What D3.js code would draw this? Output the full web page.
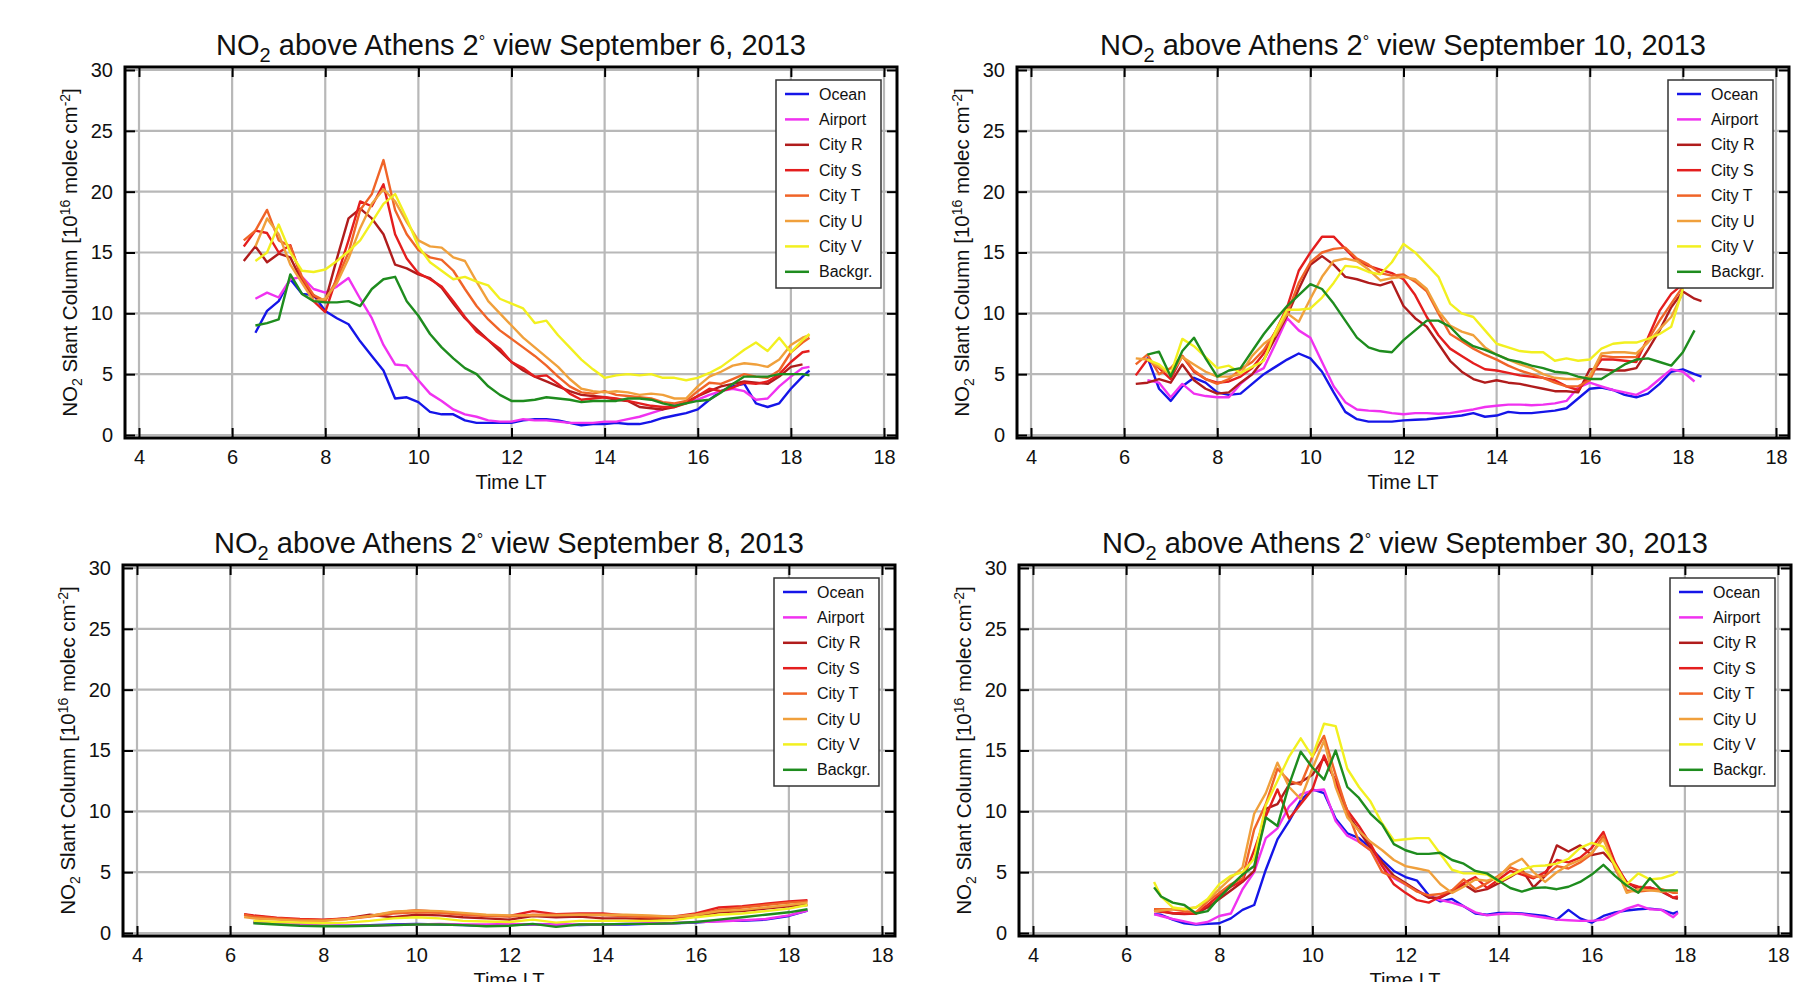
<!DOCTYPE html>
<html lang="en">
  <head>
    <meta charset="UTF-8" />
    <script src="https://d3js.org/d3.v7.min.js"></script>
    <title>NO2 above Athens</title>
    <style>
      body { margin: 0; background: #fff; }
      text { font-family: "Liberation Sans", Arial, Helvetica, sans-serif; fill: #111; }
    </style>
  </head>
  <body>
    <div id="chart"></div>
    <script>
      // series names / colours (legend order)
      const seriesNames = ["Ocean", "Airport", "City R", "City S", "City T", "City U", "City V", "Backgr."];
      const seriesColors = ["#1515e8", "#f032f0", "#b01c1c", "#e41e1e", "#f06428", "#f0a03c", "#f2f020", "#1e8c1e"];

      // axis ticks (the last x label really reads "18" in the original)
      const xTicks = [4, 6, 8, 10, 12, 14, 16, 18, 20];
      const xTickLabels = ["4", "6", "8", "10", "12", "14", "16", "18", "18"];
      const yTicks = [0, 5, 10, 15, 20, 25, 30];

      // ---- September 6 ----
      const timeSep6 = [6.25, 6.5, 6.75, 7, 7.25, 7.5, 7.75, 8, 8.25, 8.5, 8.75, 9, 9.25, 9.5, 9.75, 10, 10.25, 10.5, 10.75, 11, 11.25, 11.5, 11.75, 12, 12.25, 12.5, 12.75, 13, 13.25, 13.5, 13.75, 14, 14.25, 14.5, 14.75, 15, 15.25, 15.5, 15.75, 16, 16.25, 16.5, 16.75, 17, 17.25, 17.5, 17.75, 18, 18.25, 18.4];
      const sep6Ocean = [null, 8.4, 10.2, 11.0, 12.8, 11.6, 11.5, 10.2, 9.6, 9.1, 7.7, 6.5, 5.3, 3.0, 3.1, 2.7, 1.9, 1.7, 1.7, 1.2, 1.0, 1.0, 1.0, 1.0, 1.2, 1.3, 1.3, 1.2, 1.0, 0.8, 0.9, 0.9, 1.0, 0.9, 0.9, 1.1, 1.4, 1.6, 1.8, 2.1, 2.9, 3.6, 4.0, 4.2, 2.6, 2.3, 2.6, 3.8, 4.8, 5.3];
      const sep6Airport = [null, 11.2, 11.7, 11.3, 12.8, 13.0, 12.0, 11.7, 12.2, 12.9, 11.2, 9.6, 7.4, 5.8, 5.7, 4.5, 3.4, 2.8, 2.1, 1.7, 1.5, 1.2, 1.1, 1.1, 1.3, 1.2, 1.2, 1.1, 1.0, 1.0, 1.0, 1.1, 1.1, 1.3, 1.5, 1.8, 2.1, 2.5, 2.7, 2.9, 3.3, 3.6, 3.8, 3.6, 2.9, 3.0, 4.0, 4.8, 5.5, 5.6];
      const sep6CityR = [14.3, 15.5, 14.2, 14.9, 14.6, 12.6, 11.4, 11.0, 14.5, 17.8, 18.6, 17.8, 16.5, 14.0, 13.7, 13.2, 12.9, 12.1, 10.8, 9.6, 8.7, 7.8, 6.9, 6.0, 5.3, 4.8, 4.4, 4.0, 3.6, 3.3, 3.2, 3.1, 2.9, 2.8, 2.3, 2.2, 2.1, 2.3, 2.7, 3.2, 3.6, 4.0, 4.2, 4.4, 4.3, 4.2, 4.8, 5.6, 5.8, null];
      const sep6CityS = [15.5, 16.8, 16.6, 15.0, 15.6, 12.8, 11.0, 10.1, 13.0, 16.0, 19.2, 18.8, 20.6, 16.5, 14.5, 13.3, 12.8, 12.2, 11.0, 9.7, 8.5, 7.8, 7.1, 6.0, 5.5, 4.8, 4.9, 4.2, 3.4, 2.9, 3.0, 3.1, 3.0, 2.8, 2.6, 2.4, 2.3, 2.3, 2.6, 3.2, 3.8, 3.6, 3.9, 4.3, 4.2, 4.4, 5.0, 6.0, 6.8, 6.9];
      const sep6CityT = [16.0, 16.8, 18.5, 16.0, 15.5, 13.0, 11.5, 11.0, 12.8, 15.0, 18.5, 19.8, 22.6, 18.5, 16.5, 15.2, 14.6, 14.4, 13.5, 12.0, 10.6, 9.5, 8.6, 7.9, 7.2, 6.5, 5.7, 4.8, 4.0, 3.5, 3.4, 3.6, 3.3, 3.2, 3.1, 3.0, 2.7, 2.6, 2.8, 3.6, 4.3, 4.2, 4.6, 5.0, 4.8, 4.7, 5.3, 6.8, 7.6, 8.0];
      const sep6CityU = [null, 15.5, 17.8, 16.5, 14.0, 12.5, 11.0, 11.2, 12.5, 14.5, 17.0, 19.0, 20.2, 19.2, 17.5, 16.0, 15.5, 15.4, 14.6, 14.3, 12.6, 11.0, 10.0, 9.0, 8.0, 7.2, 6.4, 5.6, 4.6, 3.8, 3.6, 3.5, 3.6, 3.5, 3.3, 3.4, 3.3, 3.0, 3.0, 4.0, 4.8, 5.2, 5.7, 5.9, 5.8, 5.6, 6.2, 7.4, 8.0, 8.2];
      const sep6CityV = [null, 14.3, 15.0, 17.3, 15.0, 13.5, 13.4, 13.6, 14.3, 15.1, 16.0, 17.5, 19.0, 19.8, 17.8, 15.5, 14.2, 13.5, 12.8, 13.0, 12.6, 12.3, 11.2, 10.8, 10.4, 9.2, 9.4, 8.2, 7.2, 6.2, 5.4, 4.7, 4.9, 5.0, 4.9, 5.0, 4.7, 4.7, 4.5, 4.7, 5.1, 5.6, 6.3, 7.0, 7.6, 6.9, 8.0, 6.8, 7.8, 8.3];
      const sep6Backgr = [null, 9.0, 9.2, 9.5, 13.2, 11.6, 11.0, 10.9, 10.9, 11.0, 10.6, 12.0, 12.8, 13.0, 11.0, 9.8, 8.3, 7.2, 6.3, 5.5, 5.0, 4.0, 3.3, 2.8, 2.8, 2.9, 3.1, 3.0, 2.9, 2.7, 2.8, 2.8, 2.8, 3.0, 3.0, 2.9, 2.6, 2.4, 2.6, 2.8, 2.9, 3.5, 4.2, 4.8, 4.8, 4.8, 5.0, 5.0, 5.0, 4.9];

      // ---- September 10 ----
      const timeSep10 = [6.25, 6.5, 6.75, 7, 7.25, 7.5, 7.75, 8, 8.25, 8.5, 8.75, 9, 9.25, 9.5, 9.75, 10, 10.25, 10.5, 10.75, 11, 11.25, 11.5, 11.75, 12, 12.25, 12.5, 12.75, 13, 13.25, 13.5, 13.75, 14, 14.25, 14.5, 14.75, 15, 15.25, 15.5, 15.75, 16, 16.25, 16.5, 16.75, 17, 17.25, 17.5, 17.75, 18, 18.25, 18.4];
      const sep10Ocean = [null, 6.4, 3.8, 2.8, 4.0, 4.7, 4.3, 3.5, 3.3, 3.4, 4.2, 5.0, 5.6, 6.2, 6.7, 6.3, 5.2, 3.5, 1.9, 1.3, 1.1, 1.1, 1.1, 1.2, 1.25, 1.3, 1.4, 1.5, 1.6, 1.8, 1.5, 1.6, 1.9, 1.8, 1.8, 1.9, 2.0, 2.2, 3.0, 3.8, 3.9, 3.7, 3.3, 3.1, 3.4, 4.2, 5.2, 5.4, 5.0, 4.8];
      const sep10Airport = [null, 4.5, 4.3, 3.1, 4.2, 3.4, 3.2, 3.1, 3.1, 4.2, 5.0, 5.5, 7.5, 9.6, 8.6, 8.0, 6.0, 4.0, 2.7, 2.1, 2.0, 1.95, 1.8, 1.7, 1.8, 1.8, 1.75, 1.8, 1.95, 2.1, 2.3, 2.4, 2.5, 2.5, 2.45, 2.5, 2.6, 2.8, 3.9, 4.3, 4.0, 3.7, 3.5, 3.3, 3.8, 4.6, 5.4, 5.2, 4.4, null];
      const sep10CityR = [4.2, 4.3, 4.6, 4.3, 5.8, 4.5, 3.8, 3.4, 3.5, 4.3, 5.0, 6.2, 8.0, 9.8, 12.0, 14.0, 14.7, 14.0, 13.0, 12.8, 12.5, 12.3, 12.6, 10.6, 9.6, 8.9, 7.5, 6.1, 5.2, 4.6, 4.3, 4.5, 4.3, 4.2, 4.0, 3.8, 3.6, 3.6, 3.5, 5.4, 5.4, 5.3, 5.3, 5.5, 7.0, 8.6, 10.5, 11.8, 11.2, 11.0];
      const sep10CityS = [4.9, 6.2, 5.5, 4.6, 6.5, 5.2, 4.6, 4.3, 4.4, 4.8, 5.5, 6.7, 8.5, 10.5, 13.5, 15.0, 16.3, 16.3, 15.3, 14.3, 13.9, 13.6, 13.3, 12.8, 11.5, 9.7, 8.2, 7.1, 6.5, 5.9, 5.4, 5.3, 5.1, 4.9, 4.8, 4.7, 4.5, 4.0, 3.7, 4.8, 6.2, 6.2, 6.1, 6.0, 8.0, 10.2, 11.6, 12.4, null, null];
      const sep10CityT = [5.8, 6.6, 5.0, 5.5, 6.5, 5.3, 4.6, 4.2, 4.6, 5.4, 6.0, 7.0, 8.5, 10.0, 12.5, 14.2, 15.0, 15.3, 15.4, 14.5, 14.0, 13.3, 13.1, 13.2, 12.6, 11.8, 10.0, 8.3, 7.7, 7.1, 6.6, 6.2, 5.7, 5.3, 5.0, 4.7, 4.3, 4.0, 4.0, 4.5, 6.5, 6.4, 6.4, 6.4, 7.8, 9.4, 10.8, 12.2, null, null];
      const sep10CityU = [6.3, 6.2, 5.6, 5.0, 6.4, 5.8, 5.2, 4.8, 4.8, 5.0, 6.5, 7.5, 8.2, 10.0, 9.3, 11.2, 13.0, 14.3, 14.5, 14.3, 13.6, 12.7, 12.9, 13.0, 12.8, 12.0, 10.2, 9.0, 8.5, 8.2, 7.2, 6.6, 6.2, 5.8, 5.5, 5.0, 4.7, 4.6, 4.6, 4.8, 6.7, 6.8, 6.8, 6.7, 7.6, 8.7, 9.7, 11.7, null, null];
      const sep10CityV = [null, 6.2, 5.8, 5.0, 7.9, 7.3, 6.4, 5.5, 5.7, 5.1, 5.6, 6.1, 8.5, 10.3, 10.3, 10.4, 11.3, 12.5, 13.9, 13.8, 13.4, 13.2, 14.2, 15.7, 15.0, 14.0, 13.0, 10.8, 10.0, 9.7, 8.6, 7.5, 7.2, 6.9, 6.8, 6.8, 6.1, 6.3, 6.1, 6.2, 7.1, 7.5, 7.6, 7.6, 7.9, 8.3, 8.9, 12.0, null, null];
      const sep10Backgr = [null, 6.6, 6.85, 4.8, 6.9, 8.0, 6.3, 4.8, 5.3, 5.5, 6.9, 8.3, 9.5, 10.6, 11.5, 12.4, 12.0, 10.8, 9.4, 8.0, 7.2, 6.9, 6.8, 7.8, 8.6, 9.4, 9.4, 8.9, 7.9, 7.3, 7.0, 6.6, 6.2, 6.0, 5.7, 5.5, 5.2, 5.1, 4.8, 4.6, 4.6, 5.2, 5.8, 6.2, 6.3, 6.0, 5.7, 6.8, 8.6, null];

      // ---- September 8 ----
      const timeSep8 = [6.3, 6.5, 7, 7.5, 8, 8.5, 9, 9.5, 10, 10.5, 11, 11.5, 12, 12.5, 13, 13.5, 14, 14.5, 15, 15.5, 16, 16.5, 17, 17.5, 18, 18.4];
      const sep8Ocean = [null, 0.9, 0.8, 0.7, 0.6, 0.6, 0.65, 0.7, 0.75, 0.7, 0.65, 0.6, 0.7, 0.7, 0.7, 0.65, 0.7, 0.7, 0.75, 0.8, 0.85, 1.0, 1.0, 1.1, 1.4, 1.85];
      const sep8Airport = [null, 0.85, 0.75, 0.7, 0.6, 0.6, 0.6, 0.65, 0.7, 0.75, 0.7, 0.7, 0.75, 0.7, 0.7, 0.7, 0.7, 0.75, 0.8, 0.8, 0.9, 0.95, 1.05, 1.15, 1.45, 1.85];
      const sep8CityR = [1.5, 1.4, 1.2, 1.1, 1.05, 1.2, 1.5, 1.3, 1.5, 1.45, 1.3, 1.2, 1.1, 1.4, 1.3, 1.35, 1.2, 1.2, 1.15, 1.2, 1.4, 1.7, 1.8, 2.0, 2.2, 2.3];
      const sep8CityS = [1.55, 1.45, 1.25, 1.15, 1.1, 1.2, 1.4, 1.7, 1.85, 1.75, 1.55, 1.45, 1.4, 1.8, 1.55, 1.6, 1.6, 1.45, 1.35, 1.35, 1.6, 2.1, 2.2, 2.4, 2.6, 2.7];
      const sep8CityT = [1.5, 1.35, 1.2, 1.1, 1.05, 1.15, 1.35, 1.6, 1.7, 1.65, 1.5, 1.4, 1.35, 1.5, 1.5, 1.5, 1.45, 1.4, 1.3, 1.3, 1.5, 1.9, 2.1, 2.3, 2.5, 2.6];
      const sep8CityU = [1.3, 1.2, 1.1, 1.0, 1.0, 1.15, 1.4, 1.75, 1.85, 1.8, 1.65, 1.5, 1.45, 1.45, 1.45, 1.5, 1.5, 1.5, 1.45, 1.35, 1.5, 1.8, 1.9, 2.1, 2.3, 2.5];
      const sep8CityV = [null, 1.0, 0.9, 0.85, 0.8, 0.85, 1.0, 1.2, 1.3, 1.2, 1.0, 0.95, 0.9, 1.1, 0.85, 1.0, 1.0, 1.0, 1.0, 1.05, 1.3, 1.5, 1.6, 1.8, 2.0, 2.3];
      const sep8Backgr = [null, 0.8, 0.7, 0.6, 0.55, 0.55, 0.6, 0.65, 0.7, 0.7, 0.65, 0.55, 0.6, 0.75, 0.5, 0.7, 0.7, 0.75, 0.75, 0.8, 0.9, 1.1, 1.3, 1.5, 1.7, 1.95];

      // ---- September 30 ----
      const timeSep30 = [6.6, 6.75, 7, 7.25, 7.5, 7.75, 8, 8.25, 8.5, 8.75, 9, 9.25, 9.5, 9.75, 10, 10.25, 10.5, 10.75, 11, 11.25, 11.5, 11.75, 12, 12.25, 12.5, 12.75, 13, 13.25, 13.5, 13.75, 14, 14.25, 14.5, 14.75, 15, 15.25, 15.5, 15.75, 16, 16.25, 16.5, 16.75, 17, 17.25, 17.5, 17.75, 17.85];
      const sep30Ocean = [1.55, 1.5, 1.1, 0.8, 0.7, 0.75, 0.8, 1.2, 1.9, 2.3, 5.2, 7.7, 9.2, 10.9, 11.8, 11.5, 9.4, 8.2, 7.8, 7.0, 6.0, 5.1, 4.6, 4.3, 3.1, 2.6, 2.8, 2.2, 1.6, 1.5, 1.65, 1.65, 1.6, 1.5, 1.4, 1.1, 1.9, 1.2, 0.85, 1.4, 1.7, 1.85, 1.95, 2.0, 1.9, 1.6, 1.75];
      const sep30Airport = [1.55, 1.4, 1.15, 0.95, 0.75, 0.9, 1.4, 1.6, 3.6, 5.0, 7.8, 8.6, 10.4, 11.4, 11.7, 11.8, 9.2, 8.0, 7.5, 6.8, 5.5, 4.5, 4.0, 3.5, 3.0, 2.7, 2.5, 2.2, 1.7, 1.45, 1.55, 1.6, 1.55, 1.4, 1.25, 1.1, 1.05, 1.0, 1.0, 1.1, 1.55, 2.0, 2.3, 1.95, 1.9, 1.3, 1.65];
      const sep30CityR = [1.95, 1.8, 1.6, 1.55, 1.6, 2.1, 2.8, 3.5, 4.2, 5.1, 10.2, 10.6, 12.2, 12.4, 13.0, 14.4, 12.5, 9.8, 8.4, 7.0, 5.8, 4.7, 4.1, 3.5, 2.9, 2.9, 3.4, 4.0, 3.4, 3.6, 4.1, 4.6, 5.2, 3.75, 4.7, 7.2, 6.7, 7.2, 6.4, 6.6, 5.6, 4.2, 3.6, 3.75, 3.4, 2.9, 2.8];
      const sep30CityS = [1.8, 1.75, 1.65, 1.6, 1.6, 2.3, 3.1, 3.8, 4.3, 6.8, 9.6, 11.8, 9.4, 10.6, 11.8, 14.6, 12.4, 10.1, 8.8, 7.3, 5.5, 4.0, 3.3, 2.7, 2.5, 3.0, 3.5, 4.1, 4.6, 3.7, 4.4, 5.1, 4.8, 4.5, 5.0, 6.0, 5.8, 6.2, 7.0, 8.3, 5.8, 4.1, 3.8, 3.7, 3.5, 2.9, 3.0];
      const sep30CityT = [1.95, 1.95, 1.95, 1.8, 1.7, 2.6, 3.3, 4.0, 4.5, 8.5, 10.6, 13.5, 12.5, 12.2, 14.5, 16.2, 13.0, 10.0, 7.5, 6.8, 5.0, 4.6, 4.0, 3.4, 3.1, 3.2, 3.5, 4.4, 3.6, 4.1, 4.7, 5.4, 5.0, 4.6, 4.7, 5.5, 5.3, 5.8, 6.5, 8.0, 5.3, 3.5, 3.4, 3.5, 3.6, 3.3, 3.3];
      const sep30CityU = [1.8, 1.85, 1.95, 2.0, 2.1, 2.7, 3.6, 4.5, 5.4, 9.8, 11.5, 14.0, 12.0, 11.0, 13.5, 15.8, 12.0, 9.5, 8.4, 7.5, 6.8, 6.0, 5.5, 5.3, 5.1, 4.0, 3.3, 3.8, 4.4, 4.3, 4.6, 5.6, 6.1, 5.0, 4.2, 5.0, 5.6, 6.0, 6.6, 7.7, 5.5, 3.3, 3.6, 3.5, 3.4, 3.5, 3.4];
      const sep30CityV = [4.2, 3.0, 2.1, 1.95, 2.1, 2.8, 4.0, 4.7, 5.0, 6.1, 10.5, 12.5, 14.5, 16.0, 14.5, 17.2, 17.0, 13.5, 12.0, 10.8, 9.0, 7.6, 7.7, 7.8, 7.8, 6.5, 5.2, 4.9, 4.9, 4.8, 4.2, 4.7, 5.2, 5.5, 5.55, 5.7, 6.1, 7.0, 7.4, 7.1, 5.6, 4.0, 4.9, 4.4, 4.5, 4.8, 5.05];
      const sep30Backgr = [3.75, 3.0, 2.5, 2.3, 1.6, 1.8, 2.9, 3.9, 4.8, 5.5, 9.5, 8.8, 12.2, 14.9, 13.6, 12.6, 15.0, 12.0, 11.1, 9.8, 8.9, 7.3, 6.8, 6.5, 6.5, 6.6, 6.0, 5.7, 5.1, 4.9, 4.3, 3.7, 3.4, 3.7, 3.75, 3.6, 3.8, 4.2, 4.8, 5.6, 4.7, 3.9, 3.3, 4.5, 3.5, 3.5, 3.5];

      const panels = [
        { date: "September 6, 2013", time: timeSep6, values: [sep6Ocean, sep6Airport, sep6CityR, sep6CityS, sep6CityT, sep6CityU, sep6CityV, sep6Backgr], x0: 125, y0: 67 },
        { date: "September 10, 2013", time: timeSep10, values: [sep10Ocean, sep10Airport, sep10CityR, sep10CityS, sep10CityT, sep10CityU, sep10CityV, sep10Backgr], x0: 1017, y0: 67 },
        { date: "September 8, 2013", time: timeSep8, values: [sep8Ocean, sep8Airport, sep8CityR, sep8CityS, sep8CityT, sep8CityU, sep8CityV, sep8Backgr], x0: 123, y0: 565 },
        { date: "September 30, 2013", time: timeSep30, values: [sep30Ocean, sep30Airport, sep30CityR, sep30CityS, sep30CityT, sep30CityU, sep30CityV, sep30Backgr], x0: 1019, y0: 565 }
      ];

      const width = 1806, height = 982;
      const W = 772, H = 371;

      const svg = d3
        .select("#chart")
        .append("svg")
        .attr("width", width)
        .attr("height", height);

      panels.forEach(drawPanel);

      function drawPanel(p) {
        const g = svg.append("g");
        const x = d3.scaleLinear().domain([4, 20]).range([p.x0 + 14, p.x0 + W - 13]);
        const y = d3.scaleLinear().domain([0, 30]).range([p.y0 + H - 3, p.y0 + 3]);

        // grid
        g.selectAll(".vgrid")
          .data(xTicks)
          .join("line")
          .attr("x1", (d) => x(d))
          .attr("x2", (d) => x(d))
          .attr("y1", p.y0)
          .attr("y2", p.y0 + H)
          .attr("stroke", "#b8b8b8")
          .attr("stroke-width", 2.2);
        g.selectAll(".hgrid")
          .data(yTicks)
          .join("line")
          .attr("x1", p.x0)
          .attr("x2", p.x0 + W)
          .attr("y1", (d) => y(d))
          .attr("y2", (d) => y(d))
          .attr("stroke", "#b8b8b8")
          .attr("stroke-width", 2.2);

        // axes (ticks point inward)
        const bottom = g.append("g")
          .attr("transform", `translate(0, ${p.y0 + H})`)
          .call(d3.axisBottom(x).tickValues(xTicks).tickFormat((d, i) => xTickLabels[i]).tickSizeInner(-10).tickSizeOuter(0).tickPadding(12));
        const top = g.append("g")
          .attr("transform", `translate(0, ${p.y0})`)
          .call(d3.axisTop(x).tickValues(xTicks).tickFormat("").tickSizeInner(-10).tickSizeOuter(0));
        const left = g.append("g")
          .attr("transform", `translate(${p.x0}, 0)`)
          .call(d3.axisLeft(y).tickValues(yTicks).tickSizeInner(-10).tickSizeOuter(0).tickPadding(12));
        const right = g.append("g")
          .attr("transform", `translate(${p.x0 + W}, 0)`)
          .call(d3.axisRight(y).tickValues(yTicks).tickFormat("").tickSizeInner(-10).tickSizeOuter(0));
        [bottom, top, left, right].forEach((a) => {
          a.select(".domain").remove();
          a.selectAll(".tick line").attr("stroke", "#000").attr("stroke-width", 2);
          a.selectAll(".tick text")
            .style("font-family", '"Liberation Sans", Arial, sans-serif')
            .style("font-size", "20px")
            .attr("fill", "#111");
        });

        // series
        const line = d3
          .line()
          .defined((d) => d[1] !== null)
          .x((d) => x(d[0]))
          .y((d) => y(d[1]));
        p.values.forEach((vals, k) => {
          g.append("path")
            .datum(p.time.map((t, i) => [t, vals[i]]))
            .attr("fill", "none")
            .attr("stroke", seriesColors[k])
            .attr("stroke-width", 2.4)
            .attr("stroke-linejoin", "round")
            .attr("d", line);
        });

        // frame
        g.append("rect")
          .attr("x", p.x0)
          .attr("y", p.y0)
          .attr("width", W)
          .attr("height", H)
          .attr("fill", "none")
          .attr("stroke", "#000")
          .attr("stroke-width", 3);

        // legend
        const lx = p.x0 + W - 16 - 105, ly = p.y0 + 13;
        const leg = g.append("g").attr("transform", `translate(${lx}, ${ly})`);
        leg.append("rect")
          .attr("width", 105)
          .attr("height", 208)
          .attr("fill", "#fff")
          .attr("stroke", "#333")
          .attr("stroke-width", 1.5);
        seriesNames.forEach((name, k) => {
          const yy = 14 + k * 25.4;
          leg.append("line")
            .attr("x1", 9).attr("x2", 33)
            .attr("y1", yy).attr("y2", yy)
            .attr("stroke", seriesColors[k])
            .attr("stroke-width", 2.5);
          leg.append("text")
            .attr("x", 43)
            .attr("y", yy)
            .attr("dy", "0.35em")
            .style("font-size", "16px")
            .text(name);
        });

        // title
        const title = g.append("text")
          .attr("x", p.x0 + W / 2)
          .attr("y", p.y0 - 12)
          .attr("text-anchor", "middle")
          .style("font-size", "29px");
        title.append("tspan").text("NO");
        title.append("tspan").attr("dy", 7).style("font-size", "20px").text("2");
        title.append("tspan").attr("dy", -7).text(" above Athens 2");
        title.append("tspan").attr("dy", -8).style("font-size", "16px").text("°");
        title.append("tspan").attr("dy", 8).text(" view " + p.date);

        // x label
        g.append("text")
          .attr("x", p.x0 + W / 2)
          .attr("y", p.y0 + H + 51)
          .attr("text-anchor", "middle")
          .style("font-size", "20px")
          .text("Time LT");

        // y label
        const yl = g.append("text")
          .attr("transform", `translate(${p.x0 - 48}, ${p.y0 + H / 2}) rotate(-90)`)
          .attr("text-anchor", "middle")
          .style("font-size", "20.5px");
        yl.append("tspan").text("NO");
        yl.append("tspan").attr("dy", 5).style("font-size", "14px").text("2");
        yl.append("tspan").attr("dy", -5).text(" Slant Column [10");
        yl.append("tspan").attr("dy", -7).style("font-size", "14px").text("16");
        yl.append("tspan").attr("dy", 7).text(" molec cm");
        yl.append("tspan").attr("dy", -7).style("font-size", "14px").text("-2");
        yl.append("tspan").attr("dy", 7).text("]");
      }
    </script>
  </body>
</html>
